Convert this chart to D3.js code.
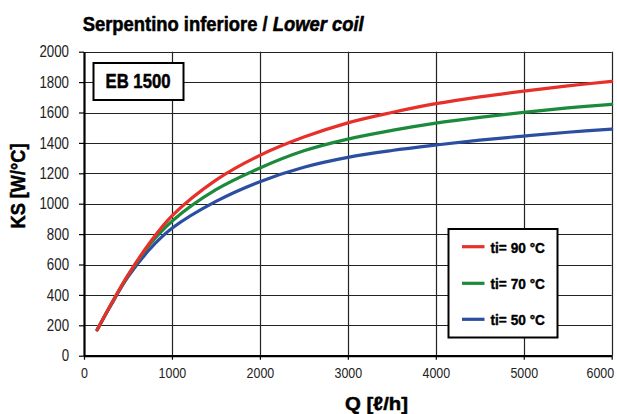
<!DOCTYPE html>
<html><head><meta charset="utf-8">
<script src="https://cdn.jsdelivr.net/npm/d3@7"></script>
<style>
html,body{margin:0;padding:0;background:#fff;}
svg{display:block;}
text{font-family:"Liberation Sans Narrow","Arial Narrow","Liberation Sans",Arial,sans-serif;}
</style></head>
<body>
<script>
const flow = [150, 300, 500, 750, 1000, 1500, 2000, 2500, 3000, 3500, 4000, 4500, 5000, 5500, 6000];
const ks90 = [170, 330, 530, 745, 920, 1155, 1318, 1438, 1532, 1600, 1658, 1703, 1741, 1775, 1805];
const ks70 = [170, 330, 528, 733, 885, 1092, 1235, 1348, 1425, 1482, 1530, 1568, 1601, 1630, 1654];
const ks50 = [170, 326, 518, 702, 838, 1015, 1145, 1240, 1305, 1350, 1386, 1418, 1445, 1470, 1491];
const seriesNames = ["ti= 90 °C", "ti= 70 °C", "ti= 50 °C"];
const seriesColors = ["#e8302a", "#1b8a3c", "#2c4ea0"];
const xTicks = [0, 1000, 2000, 3000, 4000, 5000, 6000];
const yTicks = [0, 200, 400, 600, 800, 1000, 1200, 1400, 1600, 1800, 2000];

const W = 617, H = 414;
const m = {left: 84, right: 5.3, top: 51.7, bottom: 58.3};
const svg = d3.select("body").append("svg").attr("width", W).attr("height", H);

const x = d3.scaleLinear().domain([0, 6000]).range([m.left, W - m.right]);
const y = d3.scaleLinear().domain([0, 2000]).range([H - m.bottom, m.top]);

// place a text horizontally compressed to a target width
function fitText(parent, opts) {
  const g = parent.append("g");
  const t = g.append("text").attr("text-anchor", opts.anchor || "start")
    .style("font-size", opts.size + "px").style("font-weight", opts.weight || "normal")
    .attr("fill", "#000").attr("stroke", "#000").attr("stroke-width", opts.sw || 0)
    .attr("stroke-linejoin", "round");
  opts.parts.forEach(p => t.append("tspan").style("font-style", p.italic ? "italic" : "normal").text(p.text));
  const w = t.node().getComputedTextLength();
  const f = opts.width / w;
  g.attr("transform", `translate(${opts.x},${opts.y}) rotate(${opts.rotate || 0}) scale(${f},1)`);
  return g;
}

// gridlines
const grid = svg.append("g");
grid.selectAll(".vg").data(xTicks.slice(1)).join("line")
  .attr("x1", d => Math.round(x(d)) + 0.5).attr("x2", d => Math.round(x(d)) + 0.5)
  .attr("y1", y(2000)).attr("y2", y(0))
  .attr("stroke", "#222").attr("stroke-width", 1.2);
grid.selectAll(".hg").data(yTicks.slice(1)).join("line")
  .attr("y1", d => Math.round(y(d)) + 0.5).attr("y2", d => Math.round(y(d)) + 0.5)
  .attr("x1", x(0)).attr("x2", x(6000))
  .attr("stroke", "#222").attr("stroke-width", 1.2);

// axes
const tf = 0.83;
const yAxis = svg.append("g").attr("transform", `translate(${x(0)},0)`)
  .call(d3.axisLeft(y).tickValues(yTicks).tickFormat(d3.format("d")).tickSizeInner(5).tickSizeOuter(0).tickPadding(10));
const xAxis = svg.append("g").attr("transform", `translate(0,${y(0)})`)
  .call(d3.axisBottom(x).tickValues(xTicks).tickFormat(d3.format("d")).tickSizeInner(4).tickSizeOuter(0).tickPadding(8));
[yAxis, xAxis].forEach(a => {
  a.select(".domain").attr("stroke", "#000").attr("stroke-width", 2.2);
  a.selectAll(".tick line").attr("stroke", "#000").attr("stroke-width", 1.2);
});
yAxis.selectAll(".tick text").attr("fill", "#222").style("font-size", "16px")
  .attr("x", -15 / tf).attr("transform", `scale(${tf},1)`);
xAxis.selectAll(".tick text").attr("fill", "#222").style("font-size", "15px")
  .attr("transform", `scale(${tf},1)`)
  .each(function(d) {
    if (d === 6000) d3.select(this).attr("text-anchor", "end").attr("x", 2 / tf);
  });

// curves
const line = d3.line().x(d => x(d[0])).y(d => y(d[1])).curve(d3.curveCatmullRom.alpha(0.5));
const allSeries = [ks90, ks70, ks50];
[2, 1, 0].forEach(idx => {
  svg.append("path").datum(flow.map((q, k) => [q, allSeries[idx][k]]))
    .attr("d", line).attr("fill", "none")
    .attr("stroke", seriesColors[idx]).attr("stroke-width", 3.2)
    .attr("stroke-linecap", "round");
});

// EB box
svg.append("rect").attr("x", 93.5).attr("y", 63).attr("width", 90).attr("height", 37)
  .attr("fill", "#fff").attr("stroke", "#000").attr("stroke-width", 2);
fitText(svg, {x: 138, y: 87.5, anchor: "middle", size: 20, weight: "bold", sw: 0.5, width: 65, parts: [{text: "EB 1500"}]});

// legend
const lg = svg.append("g");
lg.append("rect").attr("x", 448.5).attr("y", 229).attr("width", 109).attr("height", 108.5)
  .attr("fill", "#fff").attr("stroke", "#000").attr("stroke-width", 2);
const legY = [246.7, 283.3, 319.3];
seriesNames.forEach((n, i) => {
  lg.append("line").attr("x1", 462).attr("x2", 484.5).attr("y1", legY[i]).attr("y2", legY[i])
    .attr("stroke", seriesColors[i]).attr("stroke-width", 3.2);
  fitText(lg, {x: 490.5, y: legY[i] + 5.8, size: 15.5, weight: "bold", sw: 0.4, width: 54.5, parts: [{text: n}]});
});

// title
fitText(svg, {x: 82.7, y: 30.7, size: 20.5, weight: "bold", sw: 0.55, width: 281,
  parts: [{text: "Serpentino inferiore / "}, {text: "Lower coil", italic: true}]});

// axis titles
fitText(svg, {x: 24.5, y: 186, rotate: -90, anchor: "middle", size: 20, weight: "bold", sw: 0.5, width: 85,
  parts: [{text: "KS [W/°C]"}]});
fitText(svg, {x: 345, y: 410, size: 19, weight: "bold", sw: 0.5, width: 63, parts: [{text: "Q [ℓ/h]"}]});
</script>
</body></html>
